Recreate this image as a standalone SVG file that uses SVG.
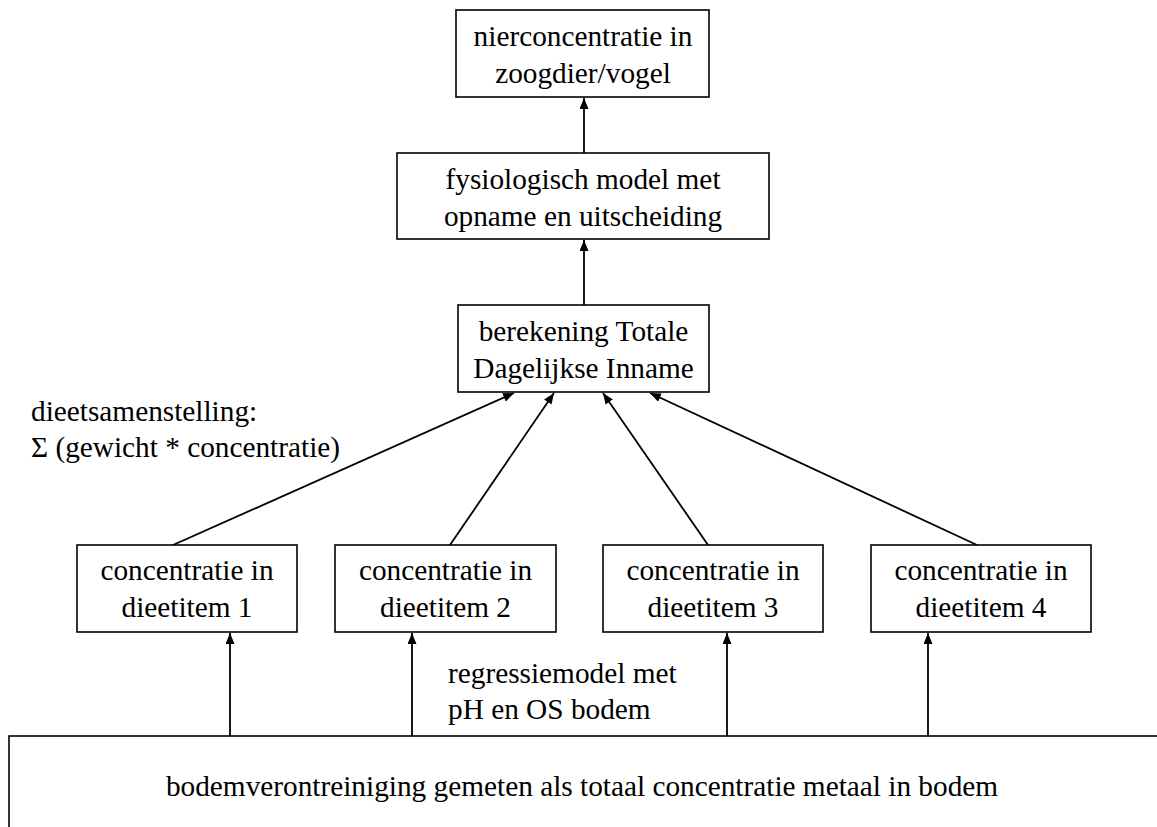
<svg xmlns="http://www.w3.org/2000/svg" width="1157" height="827" viewBox="0 0 1157 827">
<style>
.box{fill:#fff;stroke:#000;stroke-width:1.6}
.t{font-family:"Liberation Serif","Times New Roman",serif;font-size:29.3px;fill:#000}
.c{text-anchor:middle}
.ln{stroke:#000;stroke-width:1.8;fill:none;marker-end:url(#ah)}
</style>
<defs>
<marker id="ah" markerUnits="userSpaceOnUse" markerWidth="12" markerHeight="9" refX="11" refY="4.5" orient="auto">
<path d="M0,0 L11,4.5 L0,9 z" fill="#000"/>
</marker>
</defs>
<rect width="1157" height="827" fill="#fff"/>
<g id="connectors">
<line class="ln" x1="584" y1="153" x2="584" y2="98"/>
<line class="ln" x1="584" y1="305" x2="584" y2="240"/>
<line class="ln" x1="173" y1="545" x2="514" y2="393"/>
<line class="ln" x1="450" y1="545" x2="554" y2="393"/>
<line class="ln" x1="708" y1="545" x2="603" y2="393"/>
<line class="ln" x1="977" y1="545" x2="650" y2="393"/>
<line class="ln" x1="230" y1="736" x2="230" y2="633"/>
<line class="ln" x1="412" y1="736" x2="412" y2="633"/>
<line class="ln" x1="727" y1="736" x2="727" y2="633"/>
<line class="ln" x1="928" y1="736" x2="928" y2="633"/>
</g>
<g id="nier">
<rect class="box" x="456" y="10" width="253" height="87"/>
<text class="t c" x="583" y="46">nierconcentratie in</text>
<text class="t c" x="583" y="83">zoogdier/vogel</text>
</g>
<g id="fysiologisch">
<rect class="box" x="397" y="153" width="372" height="86"/>
<text class="t c" x="583" y="189">fysiologisch model met</text>
<text class="t c" x="583" y="226">opname en uitscheiding</text>
</g>
<g id="berekening">
<rect class="box" x="458" y="305" width="251" height="87"/>
<text class="t c" x="583.5" y="341">berekening Totale</text>
<text class="t c" x="583.5" y="378">Dagelijkse Inname</text>
</g>
<g id="item1">
<rect class="box" x="77" y="545" width="220" height="87"/>
<text class="t c" x="187" y="580">concentratie in</text>
<text class="t c" x="187" y="617">dieetitem 1</text>
</g>
<g id="item2">
<rect class="box" x="335" y="545" width="221" height="87"/>
<text class="t c" x="445.5" y="580">concentratie in</text>
<text class="t c" x="445.5" y="617">dieetitem 2</text>
</g>
<g id="item3">
<rect class="box" x="603" y="545" width="220" height="87"/>
<text class="t c" x="713" y="580">concentratie in</text>
<text class="t c" x="713" y="617">dieetitem 3</text>
</g>
<g id="item4">
<rect class="box" x="871" y="545" width="220" height="87"/>
<text class="t c" x="981" y="580">concentratie in</text>
<text class="t c" x="981" y="617">dieetitem 4</text>
</g>
<g id="bodem">
<rect class="box" x="9" y="736" width="1200" height="200"/>
<text class="t c" x="582" y="796">bodemverontreiniging gemeten als totaal concentratie metaal in bodem</text>
</g>
<g id="labels">
<text class="t" x="31" y="421">dieetsamenstelling:</text>
<text class="t" x="31" y="457">Σ (gewicht * concentratie)</text>
<text class="t" x="448" y="683">regressiemodel met</text>
<text class="t" x="448" y="719">pH en OS bodem</text>
</g>
</svg>
